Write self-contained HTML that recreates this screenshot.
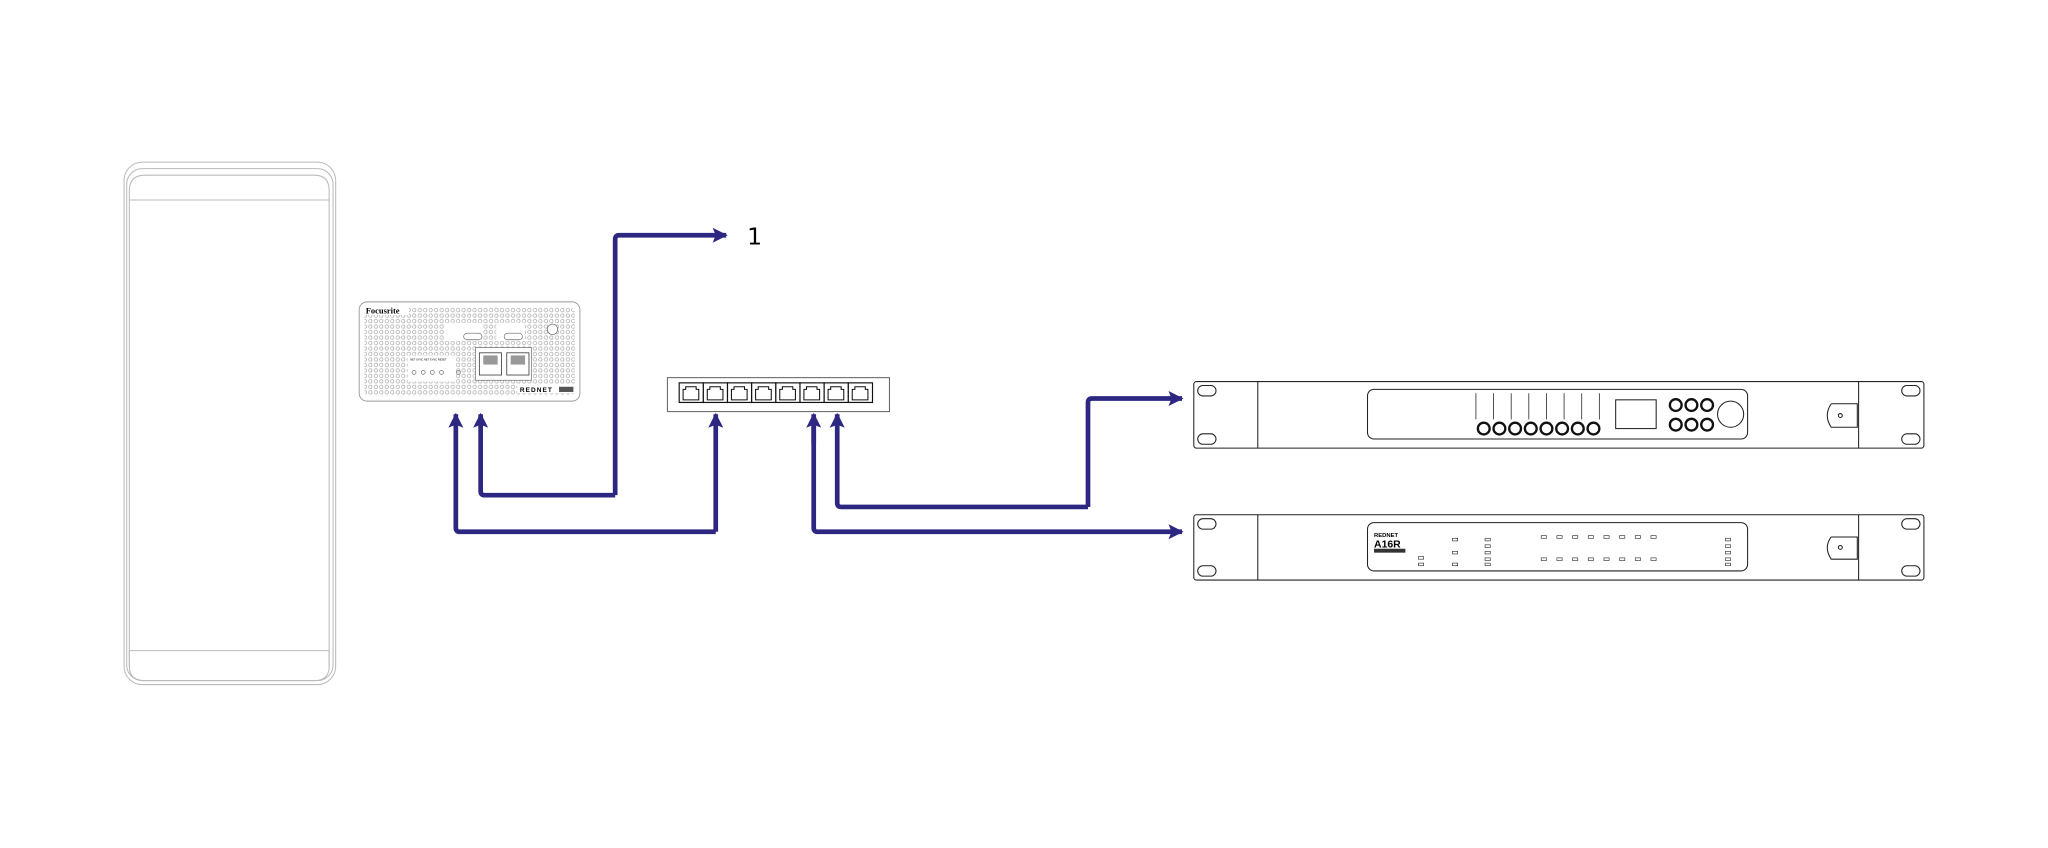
<!DOCTYPE html>
<html><head><style>html,body{margin:0;padding:0;background:#fff}svg{display:block}</style></head>
<body>
<svg width="2048" height="848" viewBox="0 0 1568 649" xmlns="http://www.w3.org/2000/svg">
<defs>
<pattern id="dots" width="4.2" height="4.2" patternUnits="userSpaceOnUse">
<circle cx="2.1" cy="2.1" r="1.3" fill="none" stroke="#888" stroke-width="0.4"/>
</pattern>
<marker id="ah" viewBox="0 0 10 10" refX="9" refY="5" markerWidth="4" markerHeight="3.2" orient="auto" markerUnits="strokeWidth">
<path d="M0,0 L10,5 L0,10 L2,5 Z" fill="#2e2782"/>
</marker>
</defs>
<!-- tall left device -->
<g fill="none" stroke="#bbb" stroke-width="0.8">
<rect x="95" y="124" width="162" height="400" rx="14"/>
<rect x="97" y="129" width="158" height="392" rx="12"/>
<path d="M99,153 V146 Q99,134 111,134 H241 Q252,134 252,146 V153"/>
<line x1="99" y1="153" x2="252" y2="153"/>
<line x1="99" y1="153" x2="99" y2="510"/>
<line x1="252" y1="153" x2="252" y2="510"/>
<line x1="99" y1="498" x2="252" y2="498"/>
<path d="M99,498 V510 Q99,521 111,521 H241 Q252,521 252,510 V498"/>
</g>
<!-- Focusrite -->
<g>
<rect x="275" y="231" width="169" height="76" rx="6" fill="#fff" stroke="#999" stroke-width="0.7"/>
<rect x="279" y="235" width="161" height="68" rx="4" fill="url(#dots)"/>
<rect x="279" y="233" width="34" height="8" fill="#fff"/>
<text x="280" y="240" font-family="Liberation Serif,serif" font-size="6.5" font-weight="bold">Focusrite</text>
<rect x="312" y="272" width="37" height="20" fill="#fff"/>
<text x="314" y="276" font-family="Liberation Sans,sans-serif" font-size="2" >NET SYNC NET SYNC  RESET</text>
<g fill="none" stroke="#666" stroke-width="0.5"><circle cx="317" cy="285" r="1.5"/><circle cx="324" cy="285" r="1.5"/><circle cx="331" cy="285" r="1.5"/><circle cx="338" cy="285" r="1.5"/><circle cx="351" cy="285" r="1.5"/></g>
<rect x="364" y="266" width="43" height="25" fill="#fff" stroke="#666" stroke-width="0.5"/>
<rect x="367" y="270" width="17" height="17" fill="#fff" stroke="#333" stroke-width="0.6"/>
<rect x="388" y="270" width="17" height="17" fill="#fff" stroke="#333" stroke-width="0.6"/>
<rect x="370" y="272" width="11" height="7" fill="#999"/><rect x="391" y="272" width="11" height="7" fill="#999"/>
<rect x="340" y="247" width="30" height="14" fill="#fff"/><rect x="380" y="247" width="22" height="14" fill="#fff"/>
<rect x="355" y="255" width="14" height="5" rx="2.5" fill="none" stroke="#666" stroke-width="0.5"/>
<rect x="386" y="255" width="14" height="5" rx="2.5" fill="none" stroke="#666" stroke-width="0.5"/>
<circle cx="423" cy="252" r="4" fill="#fff" stroke="#666" stroke-width="0.5"/>
<rect x="396" y="294" width="44" height="7" fill="#fff"/>
<text x="398" y="300" font-family="Liberation Sans,sans-serif" font-size="5" font-weight="bold" letter-spacing="0.8">REDNET</text>
<rect x="428" y="296" width="11" height="4" fill="#555"/>
</g>
<!-- switch -->
<rect x="511" y="289" width="170" height="26" fill="#fff" stroke="#666" stroke-width="0.8"/>
<g fill="#fff" stroke="#111" stroke-width="0.9">
<rect x="520" y="293" width="18.5" height="15"/><rect x="538.5" y="293" width="18.5" height="15"/><rect x="557" y="293" width="18.5" height="15"/><rect x="575.5" y="293" width="18.5" height="15"/><rect x="594" y="293" width="18.5" height="15"/><rect x="612.5" y="293" width="18.5" height="15"/><rect x="631" y="293" width="18.5" height="15"/><rect x="649.5" y="293" width="18.5" height="15"/>
</g>
<g fill="none" stroke="#111" stroke-width="0.8">
<path d="M523,306 V298 H525 V296 H533 V298 H535 V306 Z" transform="translate(0,0)"/>
<path d="M523,306 V298 H525 V296 H533 V298 H535 V306 Z" transform="translate(18.5,0)"/>
<path d="M523,306 V298 H525 V296 H533 V298 H535 V306 Z" transform="translate(37,0)"/>
<path d="M523,306 V298 H525 V296 H533 V298 H535 V306 Z" transform="translate(55.5,0)"/>
<path d="M523,306 V298 H525 V296 H533 V298 H535 V306 Z" transform="translate(74,0)"/>
<path d="M523,306 V298 H525 V296 H533 V298 H535 V306 Z" transform="translate(92.5,0)"/>
<path d="M523,306 V298 H525 V296 H533 V298 H535 V306 Z" transform="translate(111,0)"/>
<path d="M523,306 V298 H525 V296 H533 V298 H535 V306 Z" transform="translate(129.5,0)"/>
</g>
<!-- rack 1 -->
<g fill="none" stroke="#222" stroke-width="0.8">
<rect x="914" y="292" width="559" height="51" rx="2"/>
<line x1="963" y1="292" x2="963" y2="343"/><line x1="1423" y1="292" x2="1423" y2="343"/>
<rect x="917" y="295" width="14" height="8" rx="4"/><rect x="917" y="332" width="14" height="8" rx="4"/>
<rect x="1456" y="295" width="14" height="8" rx="4"/><rect x="1456" y="332" width="14" height="8" rx="4"/>
<rect x="1047" y="298" width="291" height="38" rx="5"/>
<path d="M1402,309 H1422 V327 H1402 Q1396,318 1402,309"/><circle cx="1409" cy="318" r="1.5"/>
<rect x="1237" y="306" width="31" height="22"/>
<circle cx="1325" cy="317" r="10"/>
</g>
<g stroke="#222" stroke-width="0.6">
<line x1="1130" y1="301" x2="1130" y2="321"/><line x1="1143.5" y1="301" x2="1143.5" y2="321"/><line x1="1157" y1="301" x2="1157" y2="321"/><line x1="1170.5" y1="301" x2="1170.5" y2="321"/><line x1="1184" y1="301" x2="1184" y2="321"/><line x1="1197.5" y1="301" x2="1197.5" y2="321"/><line x1="1211" y1="301" x2="1211" y2="321"/><line x1="1224.5" y1="301" x2="1224.5" y2="321"/>
</g>
<g fill="none" stroke="#111" stroke-width="1.8">
<circle cx="1136" cy="328" r="4.5"/><circle cx="1148" cy="328" r="4.5"/><circle cx="1160" cy="328" r="4.5"/><circle cx="1172" cy="328" r="4.5"/><circle cx="1184" cy="328" r="4.5"/><circle cx="1196" cy="328" r="4.5"/><circle cx="1208" cy="328" r="4.5"/><circle cx="1220" cy="328" r="4.5"/>
<circle cx="1283" cy="310" r="4.5"/><circle cx="1295" cy="310" r="4.5"/><circle cx="1307" cy="310" r="4.5"/>
<circle cx="1283" cy="325" r="4.5"/><circle cx="1295" cy="325" r="4.5"/><circle cx="1307" cy="325" r="4.5"/>
</g>
<!-- rack 2 -->
<g fill="none" stroke="#222" stroke-width="0.8">
<rect x="914" y="394" width="559" height="50" rx="2"/>
<line x1="963" y1="394" x2="963" y2="444"/><line x1="1423" y1="394" x2="1423" y2="444"/>
<rect x="917" y="397" width="14" height="8" rx="4"/><rect x="917" y="433" width="14" height="8" rx="4"/>
<rect x="1456" y="397" width="14" height="8" rx="4"/><rect x="1456" y="433" width="14" height="8" rx="4"/>
<rect x="1047" y="400" width="291" height="37" rx="5"/>
<path d="M1402,411 H1422 V428 H1402 Q1396,419 1402,411"/><circle cx="1409" cy="419" r="1.5"/>
</g>
<text x="1052" y="411" font-family="Liberation Sans,sans-serif" font-size="4.5" font-weight="bold">REDNET</text>
<text x="1052" y="419" font-family="Liberation Sans,sans-serif" font-size="8" font-weight="bold">A16R</text>
<rect x="1052" y="420" width="24" height="3" fill="#333"/>
<g fill="none" stroke="#333" stroke-width="0.5">
<rect x="1180" y="410" width="4" height="2"/><rect x="1192" y="410" width="4" height="2"/><rect x="1204" y="410" width="4" height="2"/><rect x="1216" y="410" width="4" height="2"/><rect x="1228" y="410" width="4" height="2"/><rect x="1240" y="410" width="4" height="2"/><rect x="1252" y="410" width="4" height="2"/><rect x="1264" y="410" width="4" height="2"/>
<rect x="1180" y="427" width="4" height="2"/><rect x="1192" y="427" width="4" height="2"/><rect x="1204" y="427" width="4" height="2"/><rect x="1216" y="427" width="4" height="2"/><rect x="1228" y="427" width="4" height="2"/><rect x="1240" y="427" width="4" height="2"/><rect x="1252" y="427" width="4" height="2"/><rect x="1264" y="427" width="4" height="2"/>
<rect x="1112" y="412" width="4" height="2"/><rect x="1112" y="422" width="4" height="2"/><rect x="1112" y="431" width="4" height="2"/>
<rect x="1086" y="426" width="4" height="2"/><rect x="1086" y="431" width="4" height="2"/>
<rect x="1137" y="412" width="4" height="2"/><rect x="1137" y="417" width="4" height="2"/><rect x="1137" y="422" width="4" height="2"/><rect x="1137" y="427" width="4" height="2"/><rect x="1137" y="431" width="4" height="2"/>
<rect x="1321" y="412" width="4" height="2"/><rect x="1321" y="417" width="4" height="2"/><rect x="1321" y="422" width="4" height="2"/><rect x="1321" y="427" width="4" height="2"/><rect x="1321" y="431" width="4" height="2"/>
</g>
<!-- cables -->
<g fill="none" stroke="#2e2782" stroke-width="3.6" stroke-linejoin="round" marker-end="url(#ah)">
<path d="M471,379 V183 Q471,180 474,180 H556"/>
<path d="M471,379 H371 Q368,379 368,376 V317"/>
<path d="M548,407 V317"/>
<path d="M548,407 H352 Q349,407 349,404 V317"/>
<path d="M833,388 H644 Q641,388 641,385 V317"/>
<path d="M833,388 V308 Q833,305 836,305 H905"/>
<path d="M623,320 V404 Q623,407 626,407 H905"/>
<path d="M623,340 V317"/>
</g>
<text x="572" y="187" font-family="DejaVu Sans,sans-serif" font-size="18">1</text>
</svg>
</body></html>
